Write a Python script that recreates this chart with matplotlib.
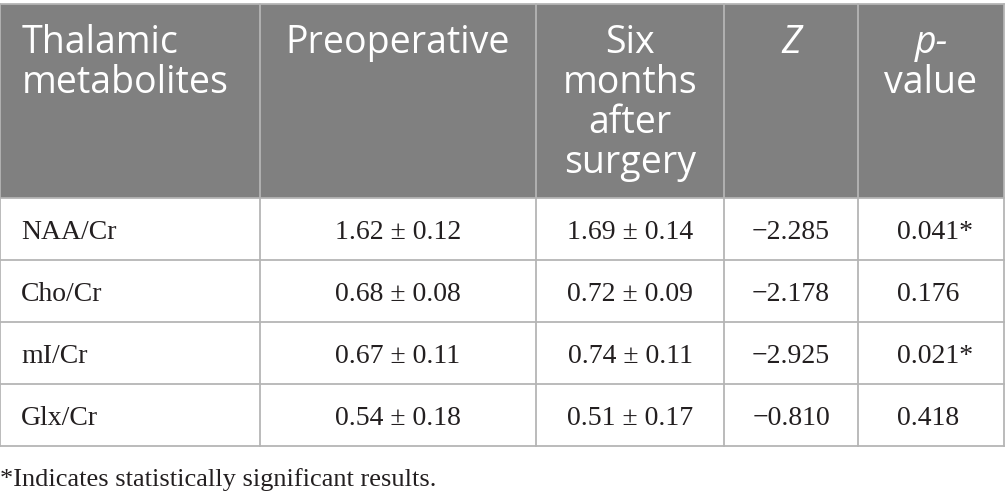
import matplotlib
matplotlib.use("Agg")
import matplotlib.pyplot as plt

# table content
header = ["Thalamic\nmetabolites", "Preoperative", "Six\nmonths\nafter\nsurgery", "Z", "p-\nvalue"]
metabolites = ["NAA/Cr", "Cho/Cr", "mI/Cr", "Glx/Cr"]
preop = ["1.62 ± 0.12", "0.68 ± 0.08", "0.67 ± 0.11", "0.54 ± 0.18"]
six_months = ["1.69 ± 0.14", "0.72 ± 0.09", "0.74 ± 0.11", "0.51 ± 0.17"]
z_values = ["−2.285", "−2.178", "−2.925", "−0.810"]
p_values = ["0.041*", "0.176", "0.021*", "0.418"]
footnote = "*Indicates statistically significant results."

# layout (pixel units)
W, H = 1005, 501
col_edges = [0, 260, 536, 724, 858, 1004]
row_edges = [4, 198, 260, 322, 384, 446]
header_bg = "#808080"
line_col = "#b5b5b5"
txt_col = "#231f20"
sans = "Open Sans"
serif = "Liberation Serif"

fig = plt.figure(figsize=(W / 100, H / 100), dpi=100)
ax = fig.add_axes([0, 0, 1, 1])
ax.set_xlim(0, W)
ax.set_ylim(H, 0)
ax.axis("off")

# header background
ax.fill_between([col_edges[0], col_edges[-1]], row_edges[0], row_edges[1],
                color=header_bg, lw=0)

# grid lines
for y in row_edges:
    ax.plot([col_edges[0], col_edges[-1]], [y, y], color=line_col, lw=1.3)
for x in col_edges:
    ax.plot([x, x], [row_edges[0], row_edges[-1]], color=line_col, lw=1.3)

# header text
for j, label in enumerate(header):
    lines = label.split("\n")
    for k, line in enumerate(lines):
        y = 53 + 40 * k
        style = "italic" if (line in ("Z", "p-")) else "normal"
        if j == 0:
            ax.text(col_edges[0] + 22, y, line, ha="left", va="baseline",
                    color="white", fontsize=27, family=sans, style=style)
        else:
            xc = (col_edges[j] + col_edges[j + 1]) / 2
            ax.text(xc, y, line, ha="center", va="baseline",
                    color="white", fontsize=27, family=sans, style=style)

# body
columns = [metabolites, preop, six_months, z_values, p_values]
for i in range(len(metabolites)):
    yc = (row_edges[i + 1] + row_edges[i + 2]) / 2
    yb = yc + 10
    for j, col in enumerate(columns):
        if j == 0:
            ax.text(col_edges[0] + 21, yb, col[i], ha="left", va="baseline",
                    fontsize=20, family=serif, color=txt_col)
        elif j == 4:
            ax.text(col_edges[j] + 39, yb, col[i], ha="left", va="baseline",
                    fontsize=20, family=serif, color=txt_col)
        else:
            xc = (col_edges[j] + col_edges[j + 1]) / 2
            ax.text(xc, yb, col[i], ha="center", va="baseline",
                    fontsize=20, family=serif, color=txt_col)

ax.text(0, 486, footnote, ha="left", va="baseline", fontsize=19,
        family=serif, color=txt_col)

fig.savefig("out.png", dpi=100)
